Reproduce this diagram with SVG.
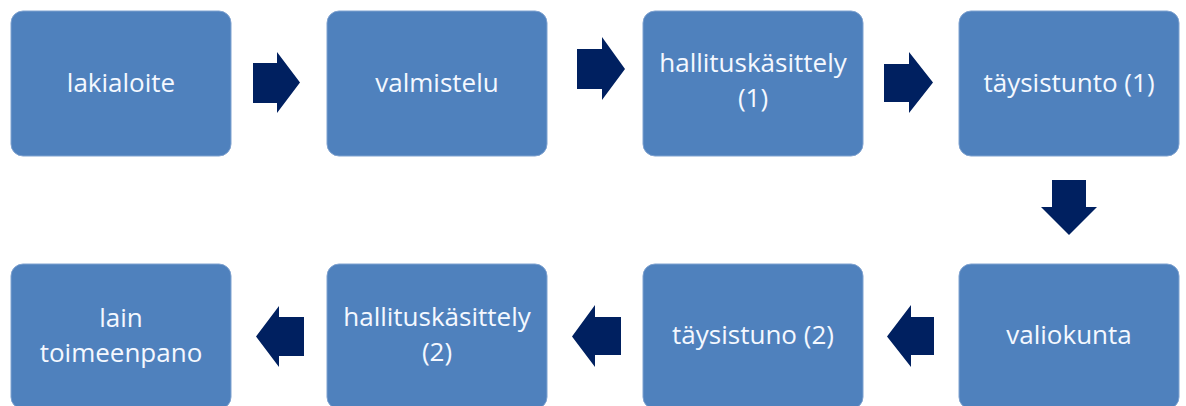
<svg xmlns="http://www.w3.org/2000/svg" width="1186" height="406" viewBox="0 0 1186 406">
<style>
.box{fill:#4F81BD;stroke:#7FA2D0;stroke-width:1}
.lbl{font-family:"Open Sans","Liberation Sans",sans-serif;font-size:26px;fill:#F4F8FF;text-anchor:middle}
.arr{fill:#002060}
</style>
<rect width="1186" height="406" fill="#FFFFFF"/>
<g id="n1"><rect class="box" x="11" y="11" width="220" height="145" rx="12"/><text class="lbl" x="121" y="92">lakialoite</text></g>
<g id="n2"><rect class="box" x="327" y="11" width="220" height="145" rx="12"/><text class="lbl" x="437" y="92">valmistelu</text></g>
<g id="n3"><rect class="box" x="643" y="11" width="220" height="145" rx="12"/><text class="lbl" x="753" y="72">hallituskäsittely</text><text class="lbl" x="753" y="107">(1)</text></g>
<g id="n4"><rect class="box" x="959" y="11" width="220" height="145" rx="12"/><text class="lbl" x="1069" y="92">täysistunto (1)</text></g>
<g id="n5"><rect class="box" x="959" y="264" width="220" height="145" rx="12"/><text class="lbl" x="1069" y="344">valiokunta</text></g>
<g id="n6"><rect class="box" x="643" y="264" width="220" height="145" rx="12"/><text class="lbl" x="753" y="344">täysistuno (2)</text></g>
<g id="n7"><rect class="box" x="327" y="264" width="220" height="145" rx="12"/><text class="lbl" x="437" y="326">hallituskäsittely</text><text class="lbl" x="437" y="361">(2)</text></g>
<g id="n8"><rect class="box" x="11" y="264" width="220" height="145" rx="12"/><text class="lbl" x="121" y="327">lain</text><text class="lbl" x="121" y="362">toimeenpano</text></g>
<g id="connectors">
<polygon class="arr" points="253,63 277,63 277,52 300,82.5 277,113 277,103 253,103"/>
<polygon class="arr" points="577,49 602,49 602,37 625,69 602,100 602,89 577,89"/>
<polygon class="arr" points="884,64 909,64 909,52 933,82.5 909,113 909,102 884,102"/>
<polygon class="arr" points="1052,180 1086,180 1086,207 1097,207 1069,235 1041,207 1052,207"/>
<polygon class="arr" points="934,317 911,317 911,305 887,336.5 911,367 911,355 934,355"/>
<polygon class="arr" points="621,317 595,317 595,305 572,336.5 595,367 595,355 621,355"/>
<polygon class="arr" points="304,317 279,317 279,306 256,336.5 279,367 279,356 304,356"/>
</g>
</svg>
